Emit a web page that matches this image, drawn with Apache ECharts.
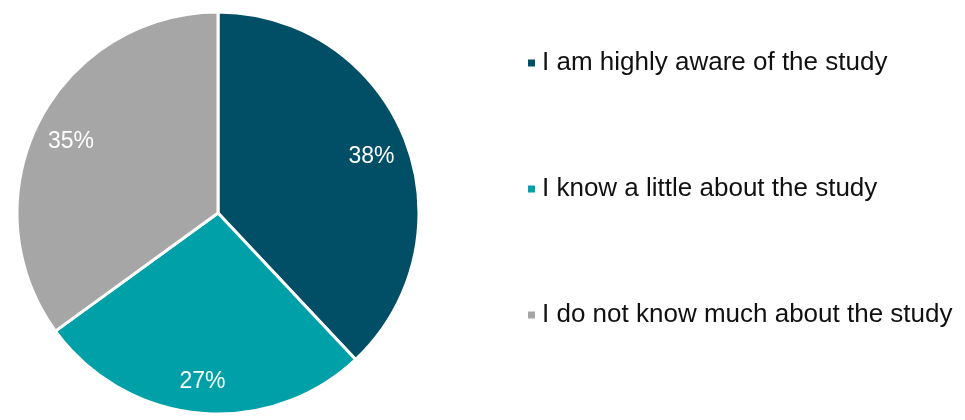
<!DOCTYPE html>
<html><head><meta charset="utf-8">
<script src="https://cdn.jsdelivr.net/npm/echarts@6/dist/echarts.min.js"></script>
<style>html,body{margin:0;padding:0;background:#fff}#c{width:965px;height:420px}</style>
</head><body><div id="c"></div>
<script>
const categories = ['I am highly aware of the study', 'I know a little about the study', 'I do not know much about the study'];
const values = [38, 27, 35];
const colors = ['#004f66', '#00a0a8', '#a6a6a6'];

const data = categories.map((n, i) => ({ name: n, value: values[i], itemStyle: { color: colors[i] } }));
const chart = echarts.init(document.getElementById('c'));
chart.setOption({
  animation: false,
  legend: {
    orient: 'vertical', left: 521, top: 45,
    itemWidth: 9, itemHeight: 9, itemGap: 100,
    icon: 'rect',
    textStyle: { fontFamily: 'Liberation Sans, Arial', fontSize: 26, color: '#111', padding: [0, 0, 0, 1] },
    data: categories
  },
  series: [{
    type: 'pie', center: [218, 213], radius: [0, 201], startAngle: 90, clockwise: true,
    label: { show: false }, labelLine: { show: false },
    itemStyle: { borderColor: '#fff', borderWidth: 3 },
    data: data
  }, {
    type: 'pie', center: [218, 213], radius: [124, 200], startAngle: 90, clockwise: true,
    silent: true, legendHoverLink: false,
    itemStyle: { color: 'rgba(0,0,0,0)' },
    label: { show: true, position: 'inside', formatter: '{c}%', color: '#fff', fontSize: 23, fontFamily: 'Liberation Sans, Arial', offset: [0, 4] },
    labelLine: { show: false },
    data: data.map(d => ({ name: d.name, value: d.value, itemStyle: { color: 'rgba(0,0,0,0)' } }))
  }]
});
</script></body></html>
